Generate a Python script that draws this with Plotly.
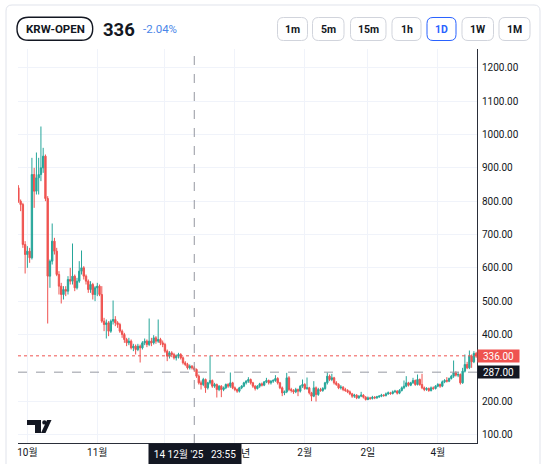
"""KRW-OPEN daily candles, TradingView-style widget."""

import pandas as pd
import plotly.graph_objects as go

# ---- data ---------------------------------------------------------------
dates = pd.date_range("2025-09-27", "2026-04-18", freq="D")

open_ = [
    840, 800, 790, 670, 640, 650, 630, 880, 830, 870, 880, 900,
    935, 808, 575, 620, 680, 650, 580, 545, 520, 535, 530, 565,
    560, 575, 540, 560, 590, 600, 575, 560, 535, 550, 520, 540,
    545, 520, 440, 430, 435, 410, 440, 445, 435, 430, 410, 400,
    385, 375, 380, 360, 365, 355, 365, 360, 375, 380, 370, 380,
    375, 390, 380, 385, 375, 370, 350, 335, 345, 340, 330, 335,
    340, 330, 315, 310, 300, 305, 300, 295, 275, 255, 250, 265,
    240, 255, 262, 245, 250, 235, 245, 235, 240, 250, 245, 255,
    240, 235, 230, 240, 245, 255, 260, 265, 255, 245, 238, 245,
    252, 248, 258, 262, 255, 260, 262, 268, 255, 240, 225, 228,
    270, 235, 232, 228, 235, 230, 245, 250, 238, 240, 225, 215,
    240, 220, 235, 232, 238, 255, 275, 265, 270, 255, 250, 240,
    242, 235, 232, 228, 222, 215, 218, 210, 215, 218, 212, 205,
    210, 208, 212, 210, 213, 215, 218, 217, 222, 225, 223, 228,
    230, 224, 232, 240, 245, 255, 248, 255, 262, 250, 265, 250,
    240, 235, 238, 232, 240, 238, 245, 250, 245, 258, 262, 260,
    268, 275, 285, 278, 280, 255, 290, 310, 300, 335, 318, 343,
]
high = [
    848, 805, 795, 680, 665, 660, 930, 900, 946, 930, 1024, 960,
    940, 815, 625, 733, 690, 660, 590, 555, 545, 545, 575, 600,
    673, 580, 570, 620, 652, 605, 580, 565, 560, 555, 545, 555,
    550, 545, 450, 445, 440, 445, 502, 455, 440, 435, 415, 405,
    390, 390, 385, 372, 370, 372, 370, 380, 388, 385, 448, 390,
    398, 395, 445, 390, 382, 375, 355, 350, 350, 345, 340, 345,
    344, 334, 320, 315, 310, 308, 305, 298, 280, 262, 270, 268,
    258, 337, 265, 255, 253, 248, 248, 244, 253, 254, 286, 258,
    244, 238, 243, 248, 258, 263, 272, 268, 258, 248, 248, 255,
    256, 260, 270, 265, 263, 266, 278, 272, 258, 244, 232, 285,
    275, 240, 236, 240, 238, 248, 265, 254, 271, 243, 228, 260,
    244, 240, 240, 242, 258, 286, 280, 282, 273, 260, 254, 248,
    245, 240, 236, 232, 225, 222, 221, 218, 228, 221, 215, 214,
    213, 216, 215, 216, 218, 222, 221, 226, 229, 228, 232, 234,
    233, 236, 244, 262, 275, 258, 258, 270, 265, 280, 268, 282,
    244, 242, 241, 244, 244, 248, 254, 253, 262, 266, 272, 271,
    279, 322, 290, 288, 283, 300, 340, 318, 352, 340, 350, 348,
]
low = [
    795, 770, 660, 583, 600, 615, 625, 780, 820, 820, 860, 885,
    800, 433, 540, 610, 640, 575, 520, 493, 505, 515, 520, 550,
    550, 530, 535, 555, 580, 565, 550, 525, 525, 505, 500, 515,
    515, 435, 410, 388, 395, 405, 430, 425, 420, 405, 390, 375,
    365, 368, 355, 350, 340, 350, 316, 355, 368, 362, 365, 365,
    370, 372, 375, 368, 362, 345, 320, 328, 332, 325, 322, 328,
    325, 310, 305, 295, 295, 295, 288, 270, 250, 235, 245, 225,
    235, 250, 240, 240, 211, 230, 212, 230, 236, 240, 240, 236,
    230, 225, 226, 236, 242, 250, 255, 250, 240, 232, 235, 240,
    244, 245, 254, 250, 250, 255, 258, 250, 236, 215, 218, 224,
    230, 226, 222, 224, 215, 226, 240, 234, 234, 220, 200, 212,
    199, 216, 228, 228, 234, 250, 260, 260, 250, 246, 236, 235,
    230, 228, 224, 218, 210, 210, 206, 207, 212, 208, 202, 203,
    204, 205, 206, 207, 210, 212, 213, 214, 219, 219, 220, 225,
    220, 221, 229, 236, 242, 244, 245, 252, 246, 247, 246, 236,
    230, 231, 228, 229, 234, 235, 242, 240, 242, 254, 256, 257,
    265, 270, 274, 272, 250, 252, 286, 296, 296, 300, 314, 330,
]
close = [
    800, 790, 670, 640, 650, 630, 880, 830, 870, 880, 900, 935,
    808, 575, 620, 680, 650, 580, 545, 520, 535, 530, 565, 560,
    575, 540, 560, 590, 600, 575, 560, 535, 550, 520, 540, 545,
    520, 440, 430, 435, 410, 440, 445, 435, 430, 410, 400, 385,
    375, 380, 360, 365, 355, 365, 360, 375, 380, 370, 380, 375,
    390, 380, 385, 375, 370, 350, 335, 345, 340, 330, 335, 340,
    330, 315, 310, 300, 305, 300, 295, 275, 255, 250, 265, 240,
    255, 262, 245, 250, 235, 245, 235, 240, 250, 245, 255, 240,
    235, 230, 240, 245, 255, 260, 265, 255, 245, 238, 245, 252,
    248, 258, 262, 255, 260, 262, 268, 255, 240, 225, 228, 270,
    235, 232, 228, 235, 230, 245, 250, 238, 240, 225, 215, 240,
    220, 235, 232, 238, 255, 275, 265, 270, 255, 250, 240, 242,
    235, 232, 228, 222, 215, 218, 210, 215, 218, 212, 205, 210,
    208, 212, 210, 213, 215, 218, 217, 222, 225, 223, 228, 230,
    224, 232, 240, 245, 255, 248, 255, 262, 250, 265, 250, 240,
    235, 238, 232, 240, 238, 245, 250, 245, 258, 262, 260, 268,
    275, 285, 278, 280, 255, 290, 310, 300, 335, 318, 343, 336,
]

month_ticks = ["2025-10-01", "2025-11-01", "2025-12-01", "2026-01-01",
               "2026-02-01", "2026-03-01", "2026-04-01"]
# Dec and the "2026" part of Jan sit under the crosshair date box
month_labels = ["10월", "11월", "", "", "2월", "2일", "4월"]
peek_label = "년"
price_ticks = [100, 200, 400, 500, 600, 700, 800, 900, 1000, 1100, 1200]

symbol = "KRW-OPEN"
last_price = 336
change_pct = -2.04
cross_date = "2025-12-14"
cross_price = 287
cross_label = "14 12월 '25&nbsp;&nbsp;&nbsp;23:55"
intervals = ["1m", "5m", "15m", "1h", "1D", "1W", "1M"]
active_interval = "1D"

# ---- geometry helpers (pixel -> paper) ----------------------------------
W, H = 546, 464
L, R, T, B = 18, 477, 49, 443
DARK = "#131722"
UP, DOWN = "#26a69a", "#ef5350"
FONT = "Roboto, Noto Sans CJK KR, sans-serif"


def px(x):
    return (x - L) / (R - L)


def py(y):
    return (B - y) / (B - T)


def rounded_rect(x0, y0, x1, y1, r):
    pts = [
        ("M", x0 + r, y0), ("L", x1 - r, y0), ("Q", x1, y0, x1, y0 + r),
        ("L", x1, y1 - r), ("Q", x1, y1, x1 - r, y1), ("L", x0 + r, y1),
        ("Q", x0, y1, x0, y1 - r), ("L", x0, y0 + r), ("Q", x0, y0, x0 + r, y0),
    ]
    out = []
    for p in pts:
        coords = p[1:]
        conv = [f"{px(coords[i]):.5f},{py(coords[i + 1]):.5f}"
                for i in range(0, len(coords), 2)]
        out.append(p[0] + " ".join(conv))
    return " ".join(out) + " Z"


def poly(points):
    return "M" + " L".join(f"{px(x):.5f},{py(y):.5f}" for x, y in points) + " Z"


# ---- figure -------------------------------------------------------------
fig = go.Figure(
    go.Candlestick(
        x=dates,
        open=open_,
        high=high,
        low=low,
        close=close,
        increasing=dict(line=dict(color=UP, width=1), fillcolor=UP),
        decreasing=dict(line=dict(color=DOWN, width=1), fillcolor=DOWN),
        hoverinfo="skip",
    )
)

shapes = []
annotations = []

# card frame
shapes.append(dict(type="path", xref="paper", yref="paper",
                   path=rounded_rect(6, 5, 540, 490, 6),
                   line=dict(color="#e0e3eb", width=1), layer="below"))

# symbol pill + price
shapes.append(dict(type="path", xref="paper", yref="paper",
                   path=rounded_rect(17, 17.3, 92.7, 40.3, 11.5),
                   line=dict(color=DARK, width=1.4)))
annotations.append(dict(x=px(55), y=py(29), text=f"<b>{symbol}</b>",
                        font=dict(size=11.5, color=DARK)))
annotations.append(dict(x=px(101), y=py(29.5), xanchor="left",
                        text=f"<b>{last_price}</b>",
                        font=dict(size=18.5, color=DARK)))
annotations.append(dict(x=px(140.5), y=py(29), xanchor="left",
                        text=f"{change_pct:.2f}%",
                        font=dict(size=11.5, color="#4a86e8")))

# interval buttons
edges = [(277.5, 307.5), (312.5, 344), (350.5, 386), (392, 421),
         (427, 456), (462, 493.5), (499, 530)]
for lab, (x0, x1) in zip(intervals, edges):
    on = lab == active_interval
    shapes.append(dict(type="path", xref="paper", yref="paper",
                       path=rounded_rect(x0, 17.5, x1, 40.5, 6),
                       line=dict(color="#2962ff" if on else "#d1d4dc", width=1)))
    annotations.append(dict(x=px((x0 + x1) / 2), y=py(29), text=f"<b>{lab}</b>",
                            font=dict(size=10.5,
                                      color="#2962ff" if on else DARK)))

# last price / crosshair lines
shapes.append(dict(type="line", xref="paper", yref="y", x0=0, x1=1,
                   y0=last_price, y1=last_price,
                   line=dict(color=DOWN, width=1, dash="dot")))
shapes.append(dict(type="line", xref="paper", yref="y", x0=0, x1=1,
                   y0=cross_price, y1=cross_price,
                   line=dict(color="#9598a1", width=1, dash="dash")))
shapes.append(dict(type="line", xref="x", yref="paper", x0=cross_date,
                   x1=cross_date, y0=0, y1=1,
                   line=dict(color="#9598a1", width=1, dash="dash")))

annotations.append(dict(x=1, xref="paper", y=last_price, yref="y",
                        xanchor="left", text=f"{last_price:.2f}",
                        bgcolor=DOWN, width=41, height=12, borderpad=0,
                        font=dict(size=10, color="white")))
annotations.append(dict(x=1, xref="paper", y=cross_price, yref="y",
                        xanchor="left", text=f"{cross_price:.2f}",
                        bgcolor=DARK, width=41, height=12, borderpad=0,
                        font=dict(size=10, color="white")))
annotations.append(dict(x=px(195), y=py(454), text=cross_label,
                        bgcolor=DARK, width=92, height=21, borderpad=0,
                        font=dict(size=10, color="white")))
annotations.append(dict(x=px(245.5), y=py(453), text=peek_label,
                        font=dict(size=10, color=DARK)))

# TradingView logo
shapes.append(dict(type="path", xref="paper", yref="paper", line_width=0,
                   fillcolor=DARK,
                   path=poly([(27, 420), (41, 420), (41, 433), (35, 433),
                              (35, 425), (27, 425)])))
shapes.append(dict(type="circle", xref="paper", yref="paper", line_width=0,
                   fillcolor=DARK, x0=px(42.2), x1=px(46.6),
                   y0=py(424.6), y1=py(420.2)))
shapes.append(dict(type="path", xref="paper", yref="paper", line_width=0,
                   fillcolor=DARK,
                   path=poly([(47, 420), (51.5, 420), (45.5, 433), (41, 433)])))

for a in annotations:
    a.setdefault("xref", "paper")
    a.setdefault("yref", "paper")
    a.setdefault("showarrow", False)
    a.setdefault("xanchor", "center")
    a.setdefault("yanchor", "middle")

fig.update_layout(
    width=W,
    height=H,
    margin=dict(l=L, r=W - R, t=T, b=H - B, pad=0),
    paper_bgcolor="white",
    plot_bgcolor="white",
    showlegend=False,
    boxgap=0.15,
    font=dict(family=FONT, size=10, color=DARK),
    shapes=shapes,
    annotations=annotations,
    xaxis=dict(
        type="date",
        range=["2025-09-26 20:00", "2026-04-18 09:00"],
        rangeslider=dict(visible=False),
        tickvals=month_ticks,
        ticktext=month_labels,
        showgrid=True,
        gridcolor="#f0f3fa",
        showline=True,
        linecolor="#2a2e39",
        linewidth=1,
        ticks="",
        zeroline=False,
        automargin=False,
        tickfont=dict(size=10, color=DARK),
    ),
    yaxis=dict(
        side="right",
        range=[74.5, 1256.5],
        tickvals=price_ticks,
        ticktext=[f"{v:.2f}" for v in price_ticks],
        showgrid=True,
        gridcolor="#f0f3fa",
        showline=True,
        linecolor="#2a2e39",
        linewidth=1,
        ticks="",
        zeroline=False,
        automargin=False,
        ticklabelstandoff=2,
        tickfont=dict(size=10, color=DARK),
    ),
)

# the page body would otherwise add an 8px offset around the fixed-size plot
fig.write_html(
    "out.html",
    config={"displayModeBar": False},
    post_script="document.body.style.margin='0';"
                "document.body.style.overflow='hidden';",
)
